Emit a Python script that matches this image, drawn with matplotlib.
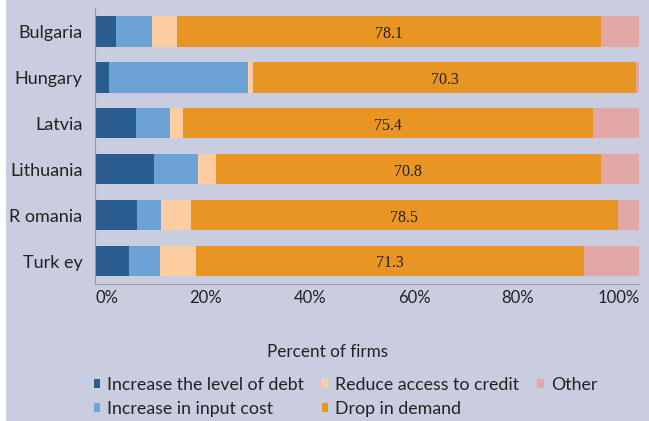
import matplotlib.pyplot as plt
import matplotlib.patches as mpatches
import matplotlib.transforms as mtransforms
import numpy as np

countries = ['Bulgaria', 'Hungary', 'Latvia', 'Lithuania', 'R omania', 'Turk ey']
debt = [3.9, 2.6, 7.6, 10.9, 7.7, 6.3]
input_cost = [6.5, 25.6, 6.1, 8.0, 4.4, 5.7]
credit = [4.6, 0.9, 2.4, 3.3, 5.5, 6.5]
demand = [78.1, 70.3, 75.4, 70.8, 78.5, 71.3]
other = [6.9, 0.6, 8.5, 7.0, 3.9, 10.2]

xticks = [0, 20, 40, 60, 80, 100]
xticklabels = ['0%', '20%', '40%', '60%', '80%', '100%']

series = [('Increase the level of debt', debt, '#2a5d8f'),
          ('Increase in input cost', input_cost, '#6ba3d6'),
          ('Reduce access to credit', credit, '#fdcca0'),
          ('Drop in demand', demand, '#e89524'),
          ('Other', other, '#e2a8a6')]

bg = '#cacde0'
sans = ['Lato', 'DejaVu Sans']
txt = '#222222'

fig = plt.figure(figsize=(6.49, 4.21), dpi=100, facecolor=bg)
fig.patches.append(mpatches.Rectangle((0, 0), 6 / 649, 1, transform=fig.transFigure,
                                      facecolor='white', edgecolor='none'))
ax = fig.add_axes([95 / 649, 0.325, 544 / 649, 0.655])
ax.set_facecolor(bg)

y = np.arange(len(countries))
left = np.zeros(len(countries))
for name, vals, col in series:
    ax.barh(y, vals, left=left, height=0.66, color=col, label=name)
    if name == 'Drop in demand':
        for yi, l, v in zip(y, left, vals):
            ax.text(l + v / 2, yi + 0.05, f'{v:.1f}', ha='center', va='center',
                    fontsize=11.5, family='Liberation Serif', color=txt)
    left += np.array(vals)

ax.set_xlim(0, 100)
ax.set_ylim(len(countries) - 0.5, -0.5)
ax.set_yticks(y)
ax.set_yticklabels(countries, family=sans, fontsize=13, color=txt)
ax.set_xticks(xticks)
ax.set_xticklabels(xticklabels, family=sans, fontsize=12, color=txt)
ax.tick_params(length=0, pad=9)
ax.tick_params(axis='x', pad=4)
# the original spreads the tick labels a little narrower than the axis
shifts = [12, 2, -3, -7, -13, -20]
for lab, dx in zip(ax.get_xticklabels(), shifts):
    lab.set_transform(lab.get_transform() +
                      mtransforms.ScaledTranslation(dx / 100, 0, fig.dpi_scale_trans))
for s in ['top', 'right']:
    ax.spines[s].set_visible(False)
for s in ['left', 'bottom']:
    ax.spines[s].set_color('#999999')

fig.text(0.505, 1 - 352 / 421, 'Percent of firms', ha='center', va='center',
         family=sans, fontsize=12.3, color=txt)

leg = fig.legend(loc='upper left', bbox_to_anchor=(94 / 649, 1 - 377 / 421), ncol=3,
                 frameon=False, prop={'family': sans, 'size': 12.8},
                 handlelength=0.35, handleheight=0.35, handletextpad=0.4,
                 columnspacing=1.0, labelspacing=0.45, borderaxespad=0, borderpad=0)
for t in leg.get_texts():
    t.set_color(txt)

fig.savefig('out.png', dpi=100, facecolor=bg)
